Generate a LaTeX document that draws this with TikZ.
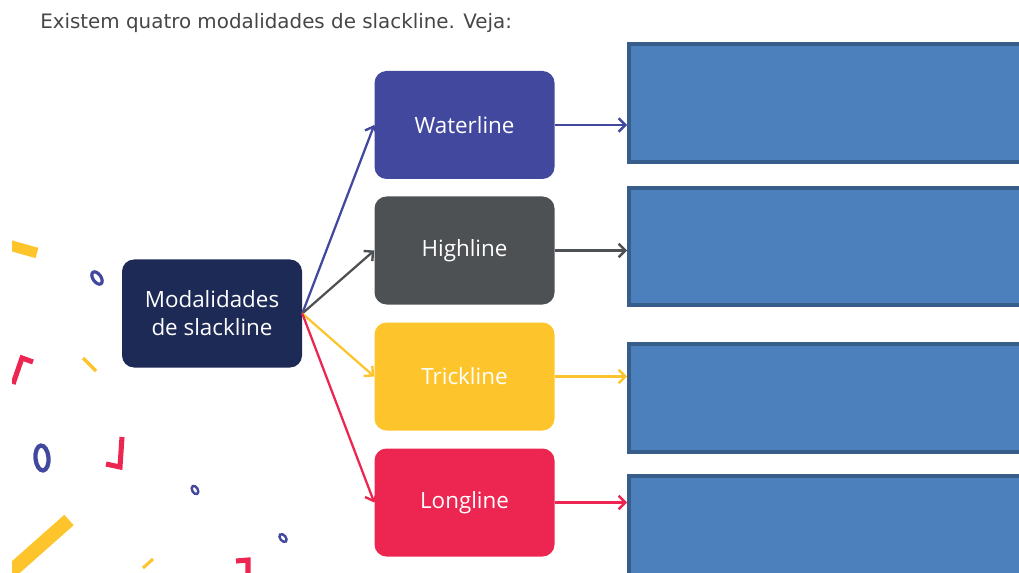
\documentclass[tikz,border=0pt]{standalone}
\usepackage{fontspec}
\usepackage{xcolor}
\usetikzlibrary{arrows.meta,positioning}
\newfontfamily\titlefont{DejaVu Sans}
\newfontfamily\boxfont{Open Sans}
\definecolor{navyblue}{RGB}{29,42,86}
\definecolor{waterblue}{RGB}{67,72,159}
\definecolor{highgray}{RGB}{78,81,84}
\definecolor{trickyellow}{RGB}{253,197,43}
\definecolor{longred}{RGB}{236,37,81}
\definecolor{answerblue}{RGB}{75,128,188}
\definecolor{answerborder}{RGB}{55,94,138}
\definecolor{titlegray}{RGB}{70,70,70}

\begin{document}
\begin{tikzpicture}[x=0.75pt, y=-0.75pt,
  modbox/.style={rectangle, rounded corners=9pt, minimum width=135pt, minimum height=81pt,
    inner sep=0pt, text=white, align=center, font=\boxfont\fontsize{16.8}{21}\selectfont},
  answerbox/.style={rectangle, draw=answerborder, line width=3pt, fill=answerblue,
    anchor=north west, minimum width=302pt, inner sep=0pt},
  link/.style={line width=1.7pt, -{Straight Barb[length=5pt,width=10pt,line width=1.8pt]}},
  bit/.style={line width=#1}]
  \useasboundingbox (0,0) rectangle (1019,573);
  \clip (0,0) rectangle (1019,573);

  % heading
  \node[anchor=base west, inner sep=0pt, text=titlegray, font=\titlefont\fontsize{14.9}{17}\selectfont] (title) at (40,29) {Existem quatro modalidades de slackline. Veja:};

  % confetti
  \begin{scope}
    \clip (12,0) rectangle (330,573);
    \draw[trickyellow, bit=8pt] (5,244) -- (37,253);
    \draw[trickyellow, bit=2.6pt] (83,358) -- (96,371);
    \draw[trickyellow, bit=10.5pt] (-10,590) -- (69,520);
    \draw[trickyellow, bit=2.3pt] (143,568) -- (153,559);
    \draw[longred, bit=3.8pt] (13,384) -- (22,358) -- (33,362);
    \draw[longred, bit=3.8pt] (122,437) -- (120,467) -- (106,464);
    \draw[longred, bit=3.8pt] (236,561) -- (248,560) -- (248,580);
    \draw[waterblue, bit=2.4pt, rotate around={35:(97,278)}] (97,278) ellipse [x radius=4, y radius=7];
    \draw[waterblue, bit=3.2pt, rotate around={5:(42,458)}] (42,458) ellipse [x radius=6.5, y radius=12.5];
    \draw[waterblue, bit=1.8pt, rotate around={30:(195,490)}] (195,490) ellipse [x radius=2.8, y radius=4.5];
    \draw[waterblue, bit=1.8pt, rotate around={40:(283,538)}] (283,538) ellipse [x radius=2.8, y radius=4.5];
  \end{scope}

  % main boxes
  \node[modbox, fill=navyblue] (modal) at (212,313.5) {Modalidades\\de slackline};
  \node[modbox, fill=waterblue] (water) at (464.5,125) {Waterline};
  \node[modbox, fill=highgray] (high) at (464.5,250.5) {Highline};
  \node[modbox, fill=trickyellow] (trick) at (464.5,376.5) {Trickline};
  \node[modbox, fill=longred] (long) at (464.5,502.5) {Longline};

  % empty answer boxes
  \node[answerbox, minimum height=88.5pt] (ans1) at (627,42) {};
  \node[answerbox, minimum height=87.75pt] (ans2) at (627,186) {};
  \node[answerbox, minimum height=81pt] (ans3) at (627,342) {};
  \node[answerbox, minimum height=81pt] (ans4) at (627,474) {};

  \draw[link, waterblue] (modal.east) -- (water.west);
  \draw[link, highgray] (modal.east) -- (high.west);
  \draw[link, trickyellow] (modal.east) -- (trick.west);
  \draw[link, longred] (modal.east) -- (long.west);

  \draw[link, waterblue] (water.east) -- (water.east -| ans1.west);
  \draw[link, highgray] (high.east) -- (high.east -| ans2.west);
  \draw[link, trickyellow] (trick.east) -- (trick.east -| ans3.west);
  \draw[link, longred] (long.east) -- (long.east -| ans4.west);
\end{tikzpicture}
\end{document}
